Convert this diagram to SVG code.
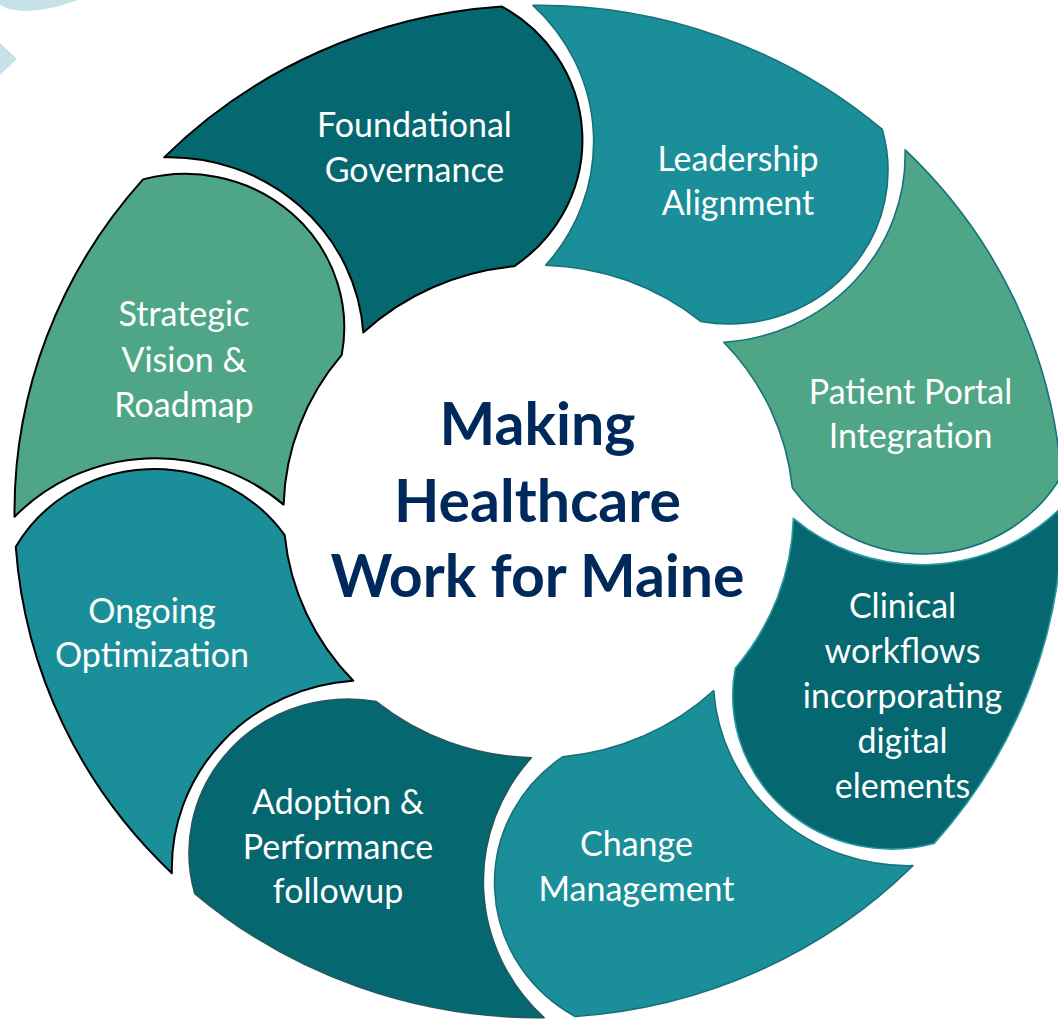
<svg xmlns="http://www.w3.org/2000/svg" xmlns:xlink="http://www.w3.org/1999/xlink" width="1058" height="1019" viewBox="0 0 1058 1019">
  <style>
    .label { font-family: Lato, "Noto Sans", sans-serif; font-size: 34px; fill: #ffffff; text-anchor: middle; }
    .title { font-family: Lato, "Noto Sans", sans-serif; font-size: 59px; font-weight: 700; fill: #00295b; text-anchor: middle; }
    .seg { vector-effect: non-scaling-stroke; stroke-linejoin: round; }
    .dark { fill: #05676f; }
    .mid { fill: #1b8f99; }
    .green { fill: #4fa686; }
    .edge-black { stroke: #000000; stroke-width: 2; }
    .edge-teal { stroke: #17717b; stroke-width: 1.6; }
    .edge-light { stroke: #2a9aa3; stroke-width: 1.6; }
    .edge-slate { stroke: #24585d; stroke-width: 1.6; }
    .deco { fill: #c4e2e7; }
  </style>
  <defs>
    <!-- one ring segment, centred on the origin, starting at 0 deg and sweeping clockwise;
         concave tail on the leading side, convex head on the trailing side -->
    <path id="segment" class="seg" d="M 523.97 -5.49 A 524 524 0 0 1 395.47 343.78 A 159 159 0 0 1 196.76 162.2 A 255 255 0 0 0 254.9 7.12 A 194.5 194.5 0 0 0 523.97 -5.49 Z"/>
  </defs>

  <rect width="1058" height="1019" fill="#ffffff"/>

  <!-- corner ornaments -->
  <path class="deco" d="M 0 0 L 0 5 Q 25 19 78 0 Z"/>
  <polygon class="deco" points="0,43 17,59 0,75"/>

  <!-- ring geometry shared by all stages -->
  <g id="ring" transform="translate(538.5 511.5) scale(1 0.966)">
    <g id="shape-leadership"><use xlink:href="#segment" href="#segment" class="mid edge-teal" transform="rotate(-90)"/></g>
    <g id="shape-portal"><use xlink:href="#segment" href="#segment" class="green edge-teal" transform="rotate(-45)"/></g>
    <g id="shape-clinical"><use xlink:href="#segment" href="#segment" class="dark edge-light" transform="rotate(0)"/></g>
    <g id="shape-change"><use xlink:href="#segment" href="#segment" class="mid edge-teal" transform="rotate(45)"/></g>
    <g id="shape-adoption"><use xlink:href="#segment" href="#segment" class="dark edge-slate" transform="rotate(90)"/></g>
    <g id="shape-ongoing"><use xlink:href="#segment" href="#segment" class="mid edge-black" transform="rotate(135)"/></g>
    <g id="shape-strategic"><use xlink:href="#segment" href="#segment" class="green edge-black" transform="rotate(180)"/></g>
    <g id="shape-foundational"><use xlink:href="#segment" href="#segment" class="dark edge-black" transform="rotate(-135)"/></g>
  </g>

  <!-- stage labels -->
  <g id="node-foundational">
    <text class="label" x="414.5" y="137">Foundational</text>
    <text class="label" x="414.5" y="181.5">Governance</text>
  </g>
  <g id="node-leadership">
    <text class="label" x="738" y="171">Leadership</text>
    <text class="label" x="738" y="215">Alignment</text>
  </g>
  <g id="node-portal">
    <text class="label" x="910.5" y="403.5">Patient Portal</text>
    <text class="label" x="910.5" y="448">Integration</text>
  </g>
  <g id="node-clinical">
    <text class="label" x="902.5" y="618">Clinical</text>
    <text class="label" x="902.5" y="662.5">workflows</text>
    <text class="label" x="902.5" y="707.5">incorporating</text>
    <text class="label" x="902.5" y="752.5">digital</text>
    <text class="label" x="902.5" y="797.5">elements</text>
  </g>
  <g id="node-change">
    <text class="label" x="636.5" y="856">Change</text>
    <text class="label" x="636.5" y="901">Management</text>
  </g>
  <g id="node-adoption">
    <text class="label" x="338" y="814">Adoption &amp;</text>
    <text class="label" x="338" y="858.5">Performance</text>
    <text class="label" x="338" y="903">followup</text>
  </g>
  <g id="node-ongoing">
    <text class="label" x="152" y="623">Ongoing</text>
    <text class="label" x="152" y="667">Optimization</text>
  </g>
  <g id="node-strategic">
    <text class="label" x="184" y="326">Strategic</text>
    <text class="label" x="184" y="371.5">Vision &amp;</text>
    <text class="label" x="184" y="416.5">Roadmap</text>
  </g>

  <!-- hub title -->
  <g id="node-hub">
    <text class="title" x="537.5" y="445">Making</text>
    <text class="title" x="537.5" y="521.5">Healthcare</text>
    <text class="title" x="537.5" y="596.5">Work for Maine</text>
  </g>
</svg>
